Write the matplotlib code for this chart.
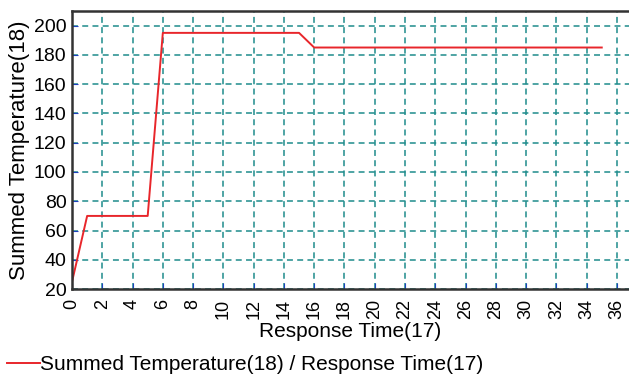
import matplotlib.pyplot as plt

plt.rcParams['font.family'] = ['Liberation Sans', 'DejaVu Sans']

# response time vs summed temperature
time = [0, 1, 5, 6, 15, 16, 35]
temp = [25, 70, 70, 195, 195, 185, 185]

x_ticks = list(range(0, 37, 2))
y_ticks = list(range(20, 201, 20))

fig = plt.figure(figsize=(6.29, 3.76), dpi=100)
ax = fig.add_axes([0.1145, 0.231, 0.8855, 0.740])

ax.plot(time, temp, color='#e8262b', lw=1.4,
        label='Summed Temperature(18) / Response Time(17)')

ax.set_xlim(0, 36.8)
ax.set_ylim(20, 210)
ax.set_xticks(x_ticks)
ax.set_yticks(y_ticks)
ax.tick_params(axis='x', labelrotation=90, labelsize=13, direction='in',
               length=4, color='#2040c0', pad=7)
ax.tick_params(axis='y', labelsize=14, direction='in', length=4,
               color='#2040c0', pad=4)

ax.grid(True, color='#1e8c8c', ls=(0, (3.9, 2.8)), lw=1.1)
ax.set_axisbelow(True)
for side in ['left', 'bottom', 'top']:
    ax.spines[side].set_color('#333333')
    ax.spines[side].set_linewidth(1.8)
ax.spines['right'].set_visible(False)

ax.set_xlabel('Response Time(17)', fontsize=15, labelpad=2)
ax.set_ylabel('Summed Temperature(18)', fontsize=16, labelpad=3)

ax.legend(loc='lower left', bbox_to_anchor=(0.008, 0.0),
          bbox_transform=fig.transFigure, frameon=False, fontsize=15,
          handlelength=1.6, handletextpad=0.0, borderaxespad=0.0,
          borderpad=0.1)

fig.savefig('out.png', dpi=100)
